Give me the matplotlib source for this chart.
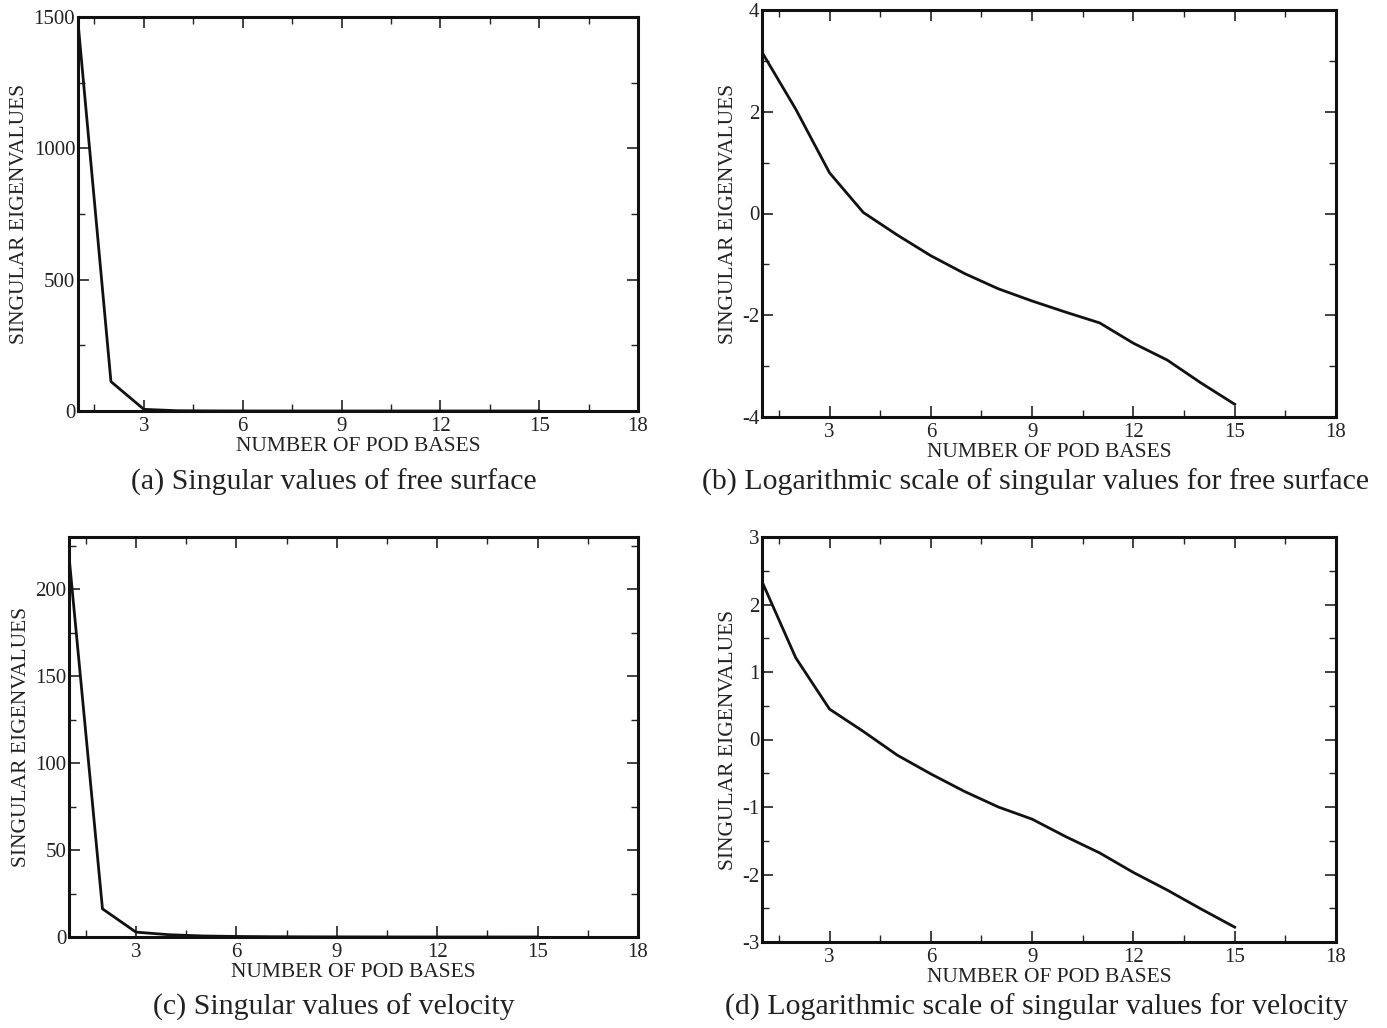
import numpy as np
import matplotlib
matplotlib.use('Agg')
import matplotlib.pyplot as plt
from matplotlib.ticker import MultipleLocator

plt.rcParams['font.family'] = ['Liberation Serif', 'DejaVu Serif']
plt.rcParams['axes.unicode_minus'] = False

pod_bases = [1, 2, 3, 4, 5, 6, 7, 8, 9, 10, 11, 12, 13, 14, 15]

# free surface singular values and their log10
sv_surface = [1480, 112, 6.3, 1.05, 0.38, 0.15, 0.066, 0.033, 0.019,
              0.0115, 0.0071, 0.0028, 0.0013, 0.00047, 0.00018]
log_surface = [3.17, 2.05, 0.80, 0.02, -0.42, -0.83, -1.18, -1.48, -1.72,
               -1.94, -2.15, -2.55, -2.88, -3.33, -3.75]

# velocity singular values and their log10
sv_velocity = [219, 16.2, 2.8, 1.3, 0.59, 0.31, 0.17, 0.10, 0.066,
               0.036, 0.021, 0.011, 0.0059, 0.0031, 0.0017]
log_velocity = [2.34, 1.21, 0.45, 0.12, -0.23, -0.51, -0.77, -1.00, -1.18,
                -1.44, -1.68, -1.97, -2.23, -2.51, -2.78]

x_ticks = [3, 6, 9, 12, 15, 18]

captions = ['(a) Singular values of free surface',
            '(b) Logarithmic scale of singular values for free surface',
            '(c) Singular values of velocity',
            '(d) Logarithmic scale of singular values for velocity']

W, H = 1387, 1028
fig = plt.figure(figsize=(W / 100, H / 100), dpi=100)


def px_axes(left, top, right, bottom):
    return fig.add_axes([left / W, 1 - bottom / H, (right - left) / W, (bottom - top) / H])


panels = [
    # box in pixels, data, ylim, major, minor, caption pos
    ((78, 17, 638, 411), sv_surface, (0, 1500), 500, 250, (334, 482)),
    ((762, 10, 1336, 417), log_surface, (-4, 4), 2, 1, (1036, 482)),
    ((69, 537, 638, 937), sv_velocity, (0, 230), 50, 25, (334, 1007)),
    ((762, 537, 1336, 942), log_velocity, (-3, 3), 1, 0.5, (1037, 1007)),
]

txt_col = '#222222'
for i, (box, vals, ylim, major, minor, cap) in enumerate(panels):
    ax = px_axes(*box)
    ax.plot(pod_bases, vals, color='#111111', lw=2)
    ax.set_xlim(1, 18)
    ax.set_ylim(*ylim)
    ax.set_xticks(x_ticks)
    ax.xaxis.set_minor_locator(MultipleLocator(1.5))
    ax.yaxis.set_major_locator(MultipleLocator(major))
    ax.yaxis.set_minor_locator(MultipleLocator(minor))
    ax.tick_params(which='both', direction='in', top=True, right=True,
                   labelsize=15, colors=txt_col, pad=2)
    ax.tick_params(axis='x', which='major', pad=4)
    ax.tick_params(which='major', length=8, width=1.2)
    ax.tick_params(which='minor', length=5, width=1.0)
    for sp in ax.spines.values():
        sp.set_linewidth(2.2)
        sp.set_color('#111111')
    ax.set_xlabel('NUMBER OF POD BASES', fontsize=15.5, color=txt_col, labelpad=1)
    ax.set_ylabel('SINGULAR EIGENVALUES', fontsize=15.5, color=txt_col, labelpad=3)
    fig.text(cap[0] / W, 1 - cap[1] / H, captions[i], fontsize=21.5,
             color=txt_col, ha='center', va='center')

fig.savefig('out.png', dpi=100, facecolor='white')
